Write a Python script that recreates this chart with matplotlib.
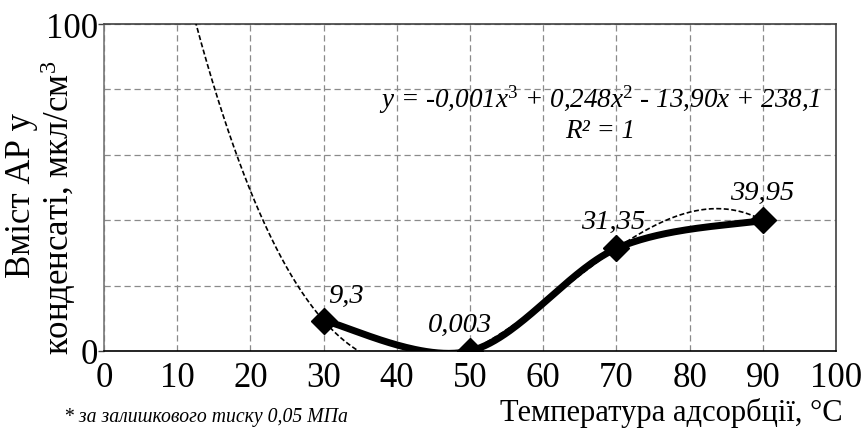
import numpy as np
import matplotlib
matplotlib.use("Agg")
import matplotlib.pyplot as plt
from matplotlib.ticker import MultipleLocator, FixedLocator

# data
temps = [30, 50, 70, 90]
values = [9.3, 0.003, 31.35, 39.95]
labels = ["9,3", "0,003", "31,35", "39,95"]
x_ticks = [0, 10, 20, 30, 40, 50, 60, 70, 80, 90, 100]
y_ticks = [0, 100]
equation = "y = -0,001x$^3$ + 0,248x$^2$ - 13,90x + 238,1"
r2_text = "R² = 1"
xlabel = "Температура адсорбції, °C"
ylabel_1 = "Вміст АР у"
ylabel_2 = "конденсаті, мкл/см$^3$"
note = "* за залишкового тиску 0,05 МПа"

plt.rcParams['font.family'] = ['Liberation Serif', 'DejaVu Serif']
plt.rcParams['mathtext.fontset'] = 'custom'
plt.rcParams['mathtext.rm'] = 'Liberation Serif'
plt.rcParams['mathtext.it'] = 'Liberation Serif:italic'

W, H = 861, 439
fig = plt.figure(figsize=(W / 100, H / 100), dpi=100)
ax = fig.add_axes([104 / W, 1 - 352 / H, (836 - 104) / W, (352 - 25) / H])

# grid
ax.set_xlim(0, 100)
ax.set_ylim(0, 100)
ax.xaxis.set_major_locator(FixedLocator(x_ticks))
ax.yaxis.set_major_locator(FixedLocator(y_ticks))
ax.yaxis.set_minor_locator(MultipleLocator(20))
ax.grid(True, which='both', color='#8a8a8a', linestyle=(0, (5, 3)), linewidth=0.9)
ax.set_axisbelow(True)

# trendline (cubic fit through the data)
coef = np.polyfit(temps, values, 3)
xt = np.linspace(0, 90, 500)
ax.plot(xt, np.polyval(coef, xt), color='black', linestyle=(0, (3, 1.5)), linewidth=1.2, zorder=3)

# Excel-style smoothed line (Catmull-Rom Bezier)
px = np.array(temps, float)
py = np.array(values, float)
n = len(px)
sx, sy = [], []
t = np.linspace(0, 1, 60)
for i in range(n - 1):
    i0 = max(i - 1, 0)
    i3 = min(i + 2, n - 1)
    p0 = np.array([px[i], py[i]])
    p3 = np.array([px[i + 1], py[i + 1]])
    c1 = p0 + (np.array([px[i + 1], py[i + 1]]) - np.array([px[i0], py[i0]])) / 6
    c2 = p3 - (np.array([px[i3], py[i3]]) - np.array([px[i], py[i]])) / 6
    b = ((1 - t) ** 3)[:, None] * p0 + (3 * (1 - t) ** 2 * t)[:, None] * c1 + \
        (3 * (1 - t) * t ** 2)[:, None] * c2 + (t ** 3)[:, None] * p3
    sx.extend(b[:, 0])
    sy.extend(b[:, 1])
ax.plot(sx, sy, color='black', linewidth=5, solid_capstyle='round', zorder=4)
ax.plot(temps, values, linestyle='none', marker='D', markersize=13, color='black', zorder=5)

# data labels (offsets in pixels)
offsets = [(22, 25), (-10, 27), (-3, 27), (-1, 28)]
for xv, yv, lab, off in zip(temps, values, labels, offsets):
    ax.annotate(lab, (xv, yv), xytext=off, textcoords='offset pixels',
                style='italic', fontsize=20.5, ha='center', va='center', zorder=6)

# equation
fig.text(600 / W, 1 - 100 / H, equation, style='italic', fontsize=19.5, ha='center', va='center')
fig.text(600 / W, 1 - 131 / H, r2_text, style='italic', fontsize=19.5, ha='center', va='center')

# spines and ticks
for s in ax.spines.values():
    s.set_color('#404040')
    s.set_linewidth(1.2)
ax.spines['left'].set_color('#777777')
ax.spines['bottom'].set_color('black')
ax.tick_params(axis='x', which='major', labelsize=25, length=0, pad=7)
ax.tick_params(axis='y', which='major', labelsize=25, length=4, width=1, color='#404040', pad=0.5)
ax.tick_params(axis='both', which='minor', length=0)

# axis labels
fig.text(671 / W, 1 - 413 / H, xlabel, fontsize=22, ha='center', va='center')
fig.text(22 / W, 1 - 195 / H, ylabel_1, fontsize=25, rotation=90, ha='center', va='center')
fig.text(58 / W, 1 - 208 / H, ylabel_2, fontsize=25, rotation=90, ha='center', va='center')

fig.text(64 / W, 1 - 418 / H, note, style='italic', fontsize=14.2, ha='left', va='center')

fig.savefig("out.png", dpi=100)
